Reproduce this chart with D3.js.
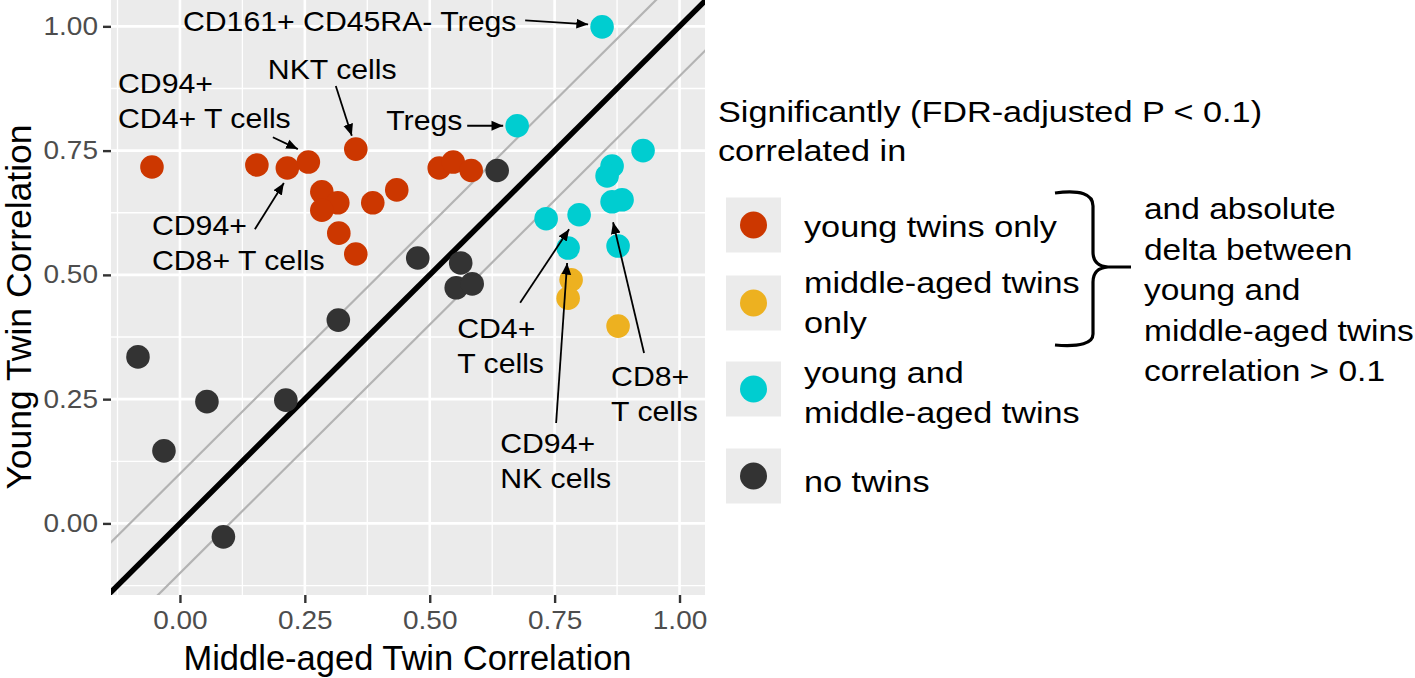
<!DOCTYPE html>
<html><head><meta charset="utf-8">
<script src="https://cdnjs.cloudflare.com/ajax/libs/d3/7.8.5/d3.min.js"></script>
<style>
html,body{margin:0;padding:0;background:#fff;}
text{font-family:"Liberation Sans",Arial,Helvetica,sans-serif;}
</style></head><body>
<svg id="chart" width="1415" height="678"></svg>
<script>
// ---------- data ----------
const youngOnlyX = [-0.056, 0.154, 0.215, 0.257, 0.352, 0.284, 0.316, 0.284, 0.386, 0.434, 0.318, 0.352, 0.519, 0.547, 0.583];
const youngOnlyY = [0.717, 0.721, 0.715, 0.727, 0.753, 0.667, 0.645, 0.630, 0.645, 0.671, 0.584, 0.542, 0.715, 0.727, 0.710];
const middleOnlyX = [0.783, 0.777, 0.877];
const middleOnlyY = [0.490, 0.453, 0.397];
const bothX = [0.845, 0.675, 0.927, 0.865, 0.855, 0.885, 0.865, 0.733, 0.799, 0.777, 0.877];
const bothY = [0.999, 0.800, 0.750, 0.719, 0.699, 0.651, 0.647, 0.613, 0.621, 0.554, 0.558];
const noneX = [-0.084, -0.032, 0.054, 0.212, 0.317, 0.087, 0.476, 0.562, 0.553, 0.585, 0.635];
const noneY = [0.335, 0.146, 0.245, 0.248, 0.409, -0.027, 0.534, 0.524, 0.474, 0.482, 0.710];
const groupNames = ["young twins only", "middle-aged twins only", "young and middle-aged twins", "no twins"];
const groupColors = ["#CC3700", "#EDB120", "#00CDD0", "#333333"];
const xTicks = [0, 0.25, 0.5, 0.75, 1];
const yTicks = [0, 0.25, 0.5, 0.75, 1];
const xMinor = [-0.125, 0.125, 0.375, 0.625, 0.875];
const yMinor = [-0.125, 0.125, 0.375, 0.625, 0.875];
const deltaOffsets = [-0.1, 0.1];
// annotations in data units: [lines, textX, textY(first baseline), arrowFromX, arrowFromY, arrowToX, arrowToY]
const annotations = [
  [["CD161+ CD45RA- Tregs"], 0.006, 0.991, 0.691, 1.012, 0.817, 1.004],
  [["Tregs"], 0.413, 0.792, 0.575, 0.800, 0.647, 0.800],
  [["NKT cells"], 0.176, 0.894, 0.312, 0.880, 0.344, 0.780],
  [["CD94+", "CD4+ T cells"], -0.124, 0.866, 0.186, 0.777, 0.236, 0.753],
  [["CD94+", "CD8+ T cells"], -0.056, 0.580, 0.150, 0.592, 0.208, 0.685],
  [["CD4+", "T cells"], 0.555, 0.373, 0.681, 0.444, 0.779, 0.592],
  [["CD94+", "NK cells"], 0.641, 0.142, 0.753, 0.202, 0.775, 0.524],
  [["CD8+", "T cells"], 0.863, 0.277, 0.929, 0.343, 0.867, 0.606]
];
const legendTitle = ["Significantly (FDR-adjusted P < 0.1)", "correlated in"];
const legendLabels = [["young twins only"], ["middle-aged twins", "only"], ["young and", "middle-aged  twins"], ["no twins"]];
const braceNote = ["and absolute", "delta between", "young and", "middle-aged twins", "correlation > 0.1"];

// ---------- layout ----------
const svg = d3.select("#chart");
const P = {left: 111, right: 705, top: 0, bottom: 595};
const x = d3.scaleLinear().domain([-0.138, 1.051]).range([P.left, P.right]);
const y = d3.scaleLinear().domain([-0.144, 1.053]).range([P.bottom, P.top]);

function txt(g, px, py, s, size, sx, anchor, fill) {
  return g.append("text")
    .attr("transform", `translate(${px},${py}) scale(${sx},1)`)
    .attr("font-size", size).attr("text-anchor", anchor || "start")
    .attr("fill", fill || "#000").text(s);
}

svg.append("defs").append("clipPath").attr("id", "clip")
  .append("rect").attr("x", P.left).attr("y", P.top)
  .attr("width", P.right - P.left).attr("height", P.bottom - P.top);
const mk = svg.select("defs").append("marker").attr("id", "arr")
  .attr("viewBox", "0 0 10 10").attr("refX", 10).attr("refY", 5)
  .attr("markerWidth", 6.5).attr("markerHeight", 6.5).attr("markerUnits", "strokeWidth")
  .attr("orient", "auto");
mk.append("path").attr("d", "M0,0.8 L10,5 L0,9.2 Z").attr("fill", "#000");

// panel
svg.append("rect").attr("x", P.left).attr("y", P.top)
  .attr("width", P.right - P.left).attr("height", P.bottom - P.top).attr("fill", "#EBEBEB");
const grid = svg.append("g");
xMinor.forEach(v => grid.append("line").attr("x1", x(v)).attr("x2", x(v)).attr("y1", P.top).attr("y2", P.bottom).attr("stroke", "#fff").attr("stroke-width", 1.3));
yMinor.forEach(v => grid.append("line").attr("y1", y(v)).attr("y2", y(v)).attr("x1", P.left).attr("x2", P.right).attr("stroke", "#fff").attr("stroke-width", 1.3));
xTicks.forEach(v => grid.append("line").attr("x1", x(v)).attr("x2", x(v)).attr("y1", P.top).attr("y2", P.bottom).attr("stroke", "#fff").attr("stroke-width", 2.6));
yTicks.forEach(v => grid.append("line").attr("y1", y(v)).attr("y2", y(v)).attr("x1", P.left).attr("x2", P.right).attr("stroke", "#fff").attr("stroke-width", 2.6));

// reference lines
const lines = svg.append("g").attr("clip-path", "url(#clip)");
const dom = [-0.3, 1.3];
deltaOffsets.forEach(o => lines.append("line")
  .attr("x1", x(dom[0])).attr("y1", y(dom[0] + o)).attr("x2", x(dom[1])).attr("y2", y(dom[1] + o))
  .attr("stroke", "#B3B3B3").attr("stroke-width", 2.2));
lines.append("line").attr("x1", x(dom[0])).attr("y1", y(dom[0])).attr("x2", x(dom[1])).attr("y2", y(dom[1]))
  .attr("stroke", "#000").attr("stroke-width", 5.5);

// points
const groups = [[youngOnlyX, youngOnlyY], [middleOnlyX, middleOnlyY], [bothX, bothY], [noneX, noneY]];
const pts = svg.append("g");
groups.forEach((g, i) => {
  pts.selectAll(null).data(d3.zip(g[0], g[1])).enter().append("circle")
    .attr("cx", d => x(d[0])).attr("cy", d => y(d[1])).attr("r", 11.8)
    .attr("fill", groupColors[i]);
});

// annotations
const ann = svg.append("g");
annotations.forEach(a => {
  a[0].forEach((l, k) => txt(ann, x(a[1]), y(a[2]) + k * 35, l, 28, 1.08, "start"));
  ann.append("line").attr("x1", x(a[3])).attr("y1", y(a[4])).attr("x2", x(a[5])).attr("y2", y(a[6]))
    .attr("stroke", "#000").attr("stroke-width", 1.8).attr("marker-end", "url(#arr)");
});

// axes
const gx = svg.append("g").attr("transform", `translate(0,${P.bottom})`)
  .call(d3.axisBottom(x).tickValues(xTicks).tickFormat(d3.format(".2f")).tickSize(8).tickPadding(3));
const gy = svg.append("g").attr("transform", `translate(${P.left},0)`)
  .call(d3.axisLeft(y).tickValues(yTicks).tickFormat(d3.format(".2f")).tickSize(8).tickPadding(5));
[gx, gy].forEach(g => {
  g.select(".domain").remove();
  g.selectAll(".tick line").attr("stroke", "#333").attr("stroke-width", 2.4);
  g.selectAll(".tick text").attr("fill", "#4D4D4D").attr("font-size", 25)
    .attr("font-family", '"Liberation Sans",Arial,sans-serif');
});
gx.selectAll(".tick text").attr("dy", "0.71em").attr("y", 0)
  .attr("transform", "translate(0,16) scale(1.12,1)").attr("x", 0);
gy.selectAll(".tick text").attr("transform", "translate(-13,0) scale(1.12,1)").attr("x", 0);

txt(svg, 407.5, 670, "Middle-aged Twin Correlation", 34.5, 1.0, "middle");
svg.append("text").attr("transform", `translate(31,307) rotate(-90)`)
  .attr("font-size", 35.5).attr("text-anchor", "middle").text("Young Twin Correlation");

// legend
const lg = svg.append("g");
legendTitle.forEach((l, k) => txt(lg, 718, 122 + k * 39, l, 29, 1.18, "start"));
const keyY = [225, 303, 389, 476];
const labelBase = [237, 293, 383, 492];
legendLabels.forEach((ls, i) => {
  lg.append("rect").attr("x", 726).attr("y", keyY[i] - 27.5).attr("width", 55).attr("height", 55).attr("fill", "#EBEBEB");
  lg.append("circle").attr("cx", 753.5).attr("cy", keyY[i]).attr("r", 13.5).attr("fill", groupColors[i]);
  ls.forEach((l, k) => txt(lg, 804, labelBase[i] + k * 40, l, 29, 1.18, "start"));
});
lg.append("path")
  .attr("d", "M1055,193 Q1093,188 1093,206 L1093,252 Q1093,266 1108,267 L1131,267 M1108,267 Q1093,268 1093,282 L1093,334 Q1093,348 1055,345")
  .attr("fill", "none").attr("stroke", "#000").attr("stroke-width", 3.2);
braceNote.forEach((l, k) => txt(lg, 1144, 219 + k * 40.5, l, 29, 1.155, "start"));
</script>
</body></html>
